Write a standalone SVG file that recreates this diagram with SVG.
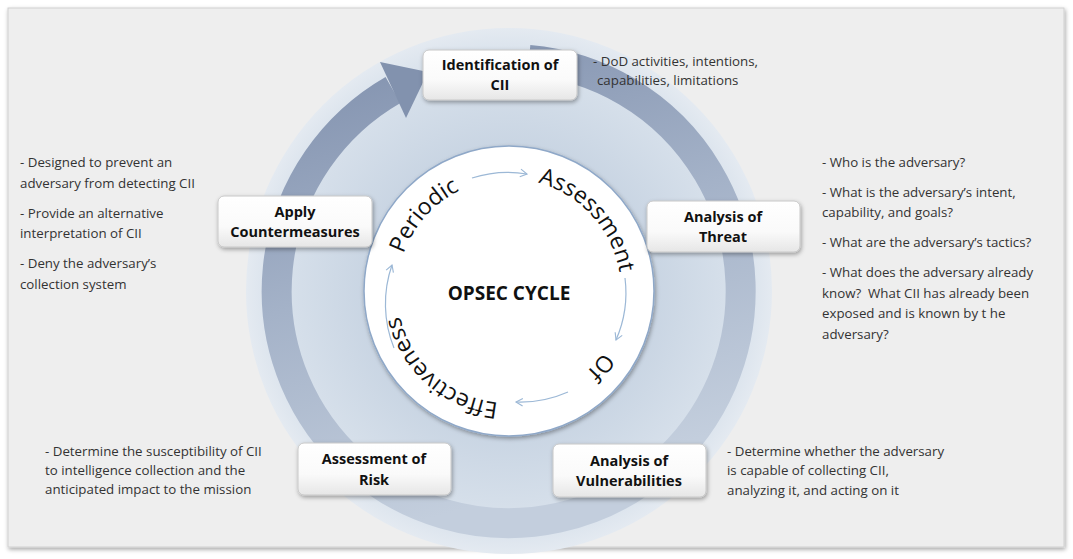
<svg xmlns="http://www.w3.org/2000/svg" width="1073" height="559" viewBox="0 0 1073 559">
<defs>
<radialGradient id="disc" cx="50%" cy="50%" r="50%"><stop offset="0.55" stop-color="#c9d5e3"/><stop offset="0.9" stop-color="#d9e2ec"/><stop offset="1" stop-color="#e4eaf1"/></radialGradient>
<linearGradient id="ring" x1="0" y1="0" x2="0.3" y2="1"><stop offset="0" stop-color="#8090ad"/><stop offset="0.5" stop-color="#a4b2c8"/><stop offset="1" stop-color="#c3cedd"/></linearGradient>
<linearGradient id="box" x1="0" y1="0" x2="0" y2="1"><stop offset="0" stop-color="#ffffff"/><stop offset="0.6" stop-color="#fafafa"/><stop offset="1" stop-color="#e6e6e6"/></linearGradient>
<filter id="sh" x="-20%" y="-20%" width="140%" height="150%"><feDropShadow dx="1" dy="2" stdDeviation="2" flood-color="#000" flood-opacity="0.35"/></filter>
<marker id="ah" viewBox="0 0 10 10" refX="8" refY="5" markerWidth="8" markerHeight="8" orient="auto"><path d="M1,1 L8,5 L1,9" fill="none" stroke="#9cb8d6" stroke-width="1.2"/></marker>
<path id="tp" d="M397,291 A112,112 0 1,1 621,291 A112,112 0 1,1 397,291"/>
</defs>
<style>
.b{fill:url(#box);stroke:#c8c8c8;stroke-width:1;filter:url(#sh)}
.bl{font-family:"Open Sans","Liberation Sans",sans-serif;font-weight:bold;font-size:14.5px;fill:#111;text-anchor:middle}
.d{font-family:"Open Sans","Liberation Sans",sans-serif;font-size:13.3px;fill:#333}
.cw{font-family:"Open Sans","Liberation Sans",sans-serif;font-size:23px;fill:#111}
.sa{fill:none;stroke:#9cb8d6;stroke-width:1.2;marker-end:url(#ah)}
</style>
<rect width="1073" height="559" fill="#fff"/>
<rect x="8" y="8" width="1056" height="539" fill="#eeeeee" stroke="#d0d0d0" filter="url(#sh)"/>
<circle cx="509" cy="291" r="263" fill="url(#disc)"/>
<g id="cycle-arrow">
<path d="M529,60 A232,232 0 1,1 393,90" fill="none" stroke="url(#ring)" stroke-width="30"/>
<polygon points="380,62 428,72 406,118" fill="#8292ae"/>
</g>
<circle cx="509" cy="291" r="145" fill="#fff" stroke="#8fa8c8" stroke-width="1.5" filter="url(#sh)"/>
<g id="connectors">
<path class="sa" d="M472,178 A118,118 0 0,1 527,174"/>
<path class="sa" d="M625,278 A118,118 0 0,1 616,340"/>
<path class="sa" d="M568,392 A118,118 0 0,1 516,402"/>
<path class="sa" d="M394,348 A118,118 0 0,1 392,265"/>
</g>
<g id="center-text">
<text class="cw"><textPath href="#tp" startOffset="38">Periodic</textPath></text>
<text class="cw"><textPath href="#tp" startOffset="205">Assessment</textPath></text>
<text class="cw"><textPath href="#tp" startOffset="416">Of</textPath></text>
<text class="cw"><textPath href="#tp" startOffset="538">Effectiveness</textPath></text>
<text x="509" y="300" class="bl" style="font-size:19px">OPSEC CYCLE</text>
</g>
<g id="n-identification"><rect class="b" x="423" y="50" width="154" height="50" rx="6"/><text class="bl" x="500" y="70">Identification of</text><text class="bl" x="500" y="90">CII</text></g>
<g id="n-apply"><rect class="b" x="218" y="196" width="154" height="51" rx="6"/><text class="bl" x="295" y="217">Apply</text><text class="bl" x="295" y="237">Countermeasures</text></g>
<g id="n-threat"><rect class="b" x="647" y="201" width="153" height="51" rx="6"/><text class="bl" x="723" y="222">Analysis of</text><text class="bl" x="723" y="242">Threat</text></g>
<g id="n-risk"><rect class="b" x="298" y="443" width="153" height="52" rx="6"/><text class="bl" x="374" y="464">Assessment of</text><text class="bl" x="374" y="485">Risk</text></g>
<g id="n-vuln"><rect class="b" x="553" y="444" width="153" height="53" rx="6"/><text class="bl" x="629" y="466">Analysis of</text><text class="bl" x="629" y="486">Vulnerabilities</text></g>
<g id="notes">
<text class="d" x="593" y="66">- DoD activities, intentions,</text>
<text class="d" x="597" y="85">capabilities, limitations</text>
<text class="d" x="20" y="167">- Designed to prevent an</text>
<text class="d" x="20" y="188">adversary from detecting CII</text>
<text class="d" x="20" y="218">- Provide an alternative</text>
<text class="d" x="20" y="238">interpretation of CII</text>
<text class="d" x="20" y="268">- Deny the adversary’s</text>
<text class="d" x="20" y="289">collection system</text>
<text class="d" x="822" y="167">- Who is the adversary?</text>
<text class="d" x="822" y="197">- What is the adversary’s intent,</text>
<text class="d" x="822" y="217">capability, and goals?</text>
<text class="d" x="822" y="247">- What are the adversary’s tactics?</text>
<text class="d" x="822" y="277">- What does the adversary already</text>
<text class="d" x="822" y="298" xml:space="preserve">know?  What CII has already been</text>
<text class="d" x="822" y="318">exposed and is known by t he</text>
<text class="d" x="822" y="339">adversary?</text>
<text class="d" x="45" y="456">- Determine the susceptibility of CII</text>
<text class="d" x="45" y="475">to intelligence collection and the</text>
<text class="d" x="45" y="494">anticipated impact to the mission</text>
<text class="d" x="727" y="456">- Determine whether the adversary</text>
<text class="d" x="727" y="475">is capable of collecting CII,</text>
<text class="d" x="727" y="495">analyzing it, and acting on it</text>
</g>
</svg>
